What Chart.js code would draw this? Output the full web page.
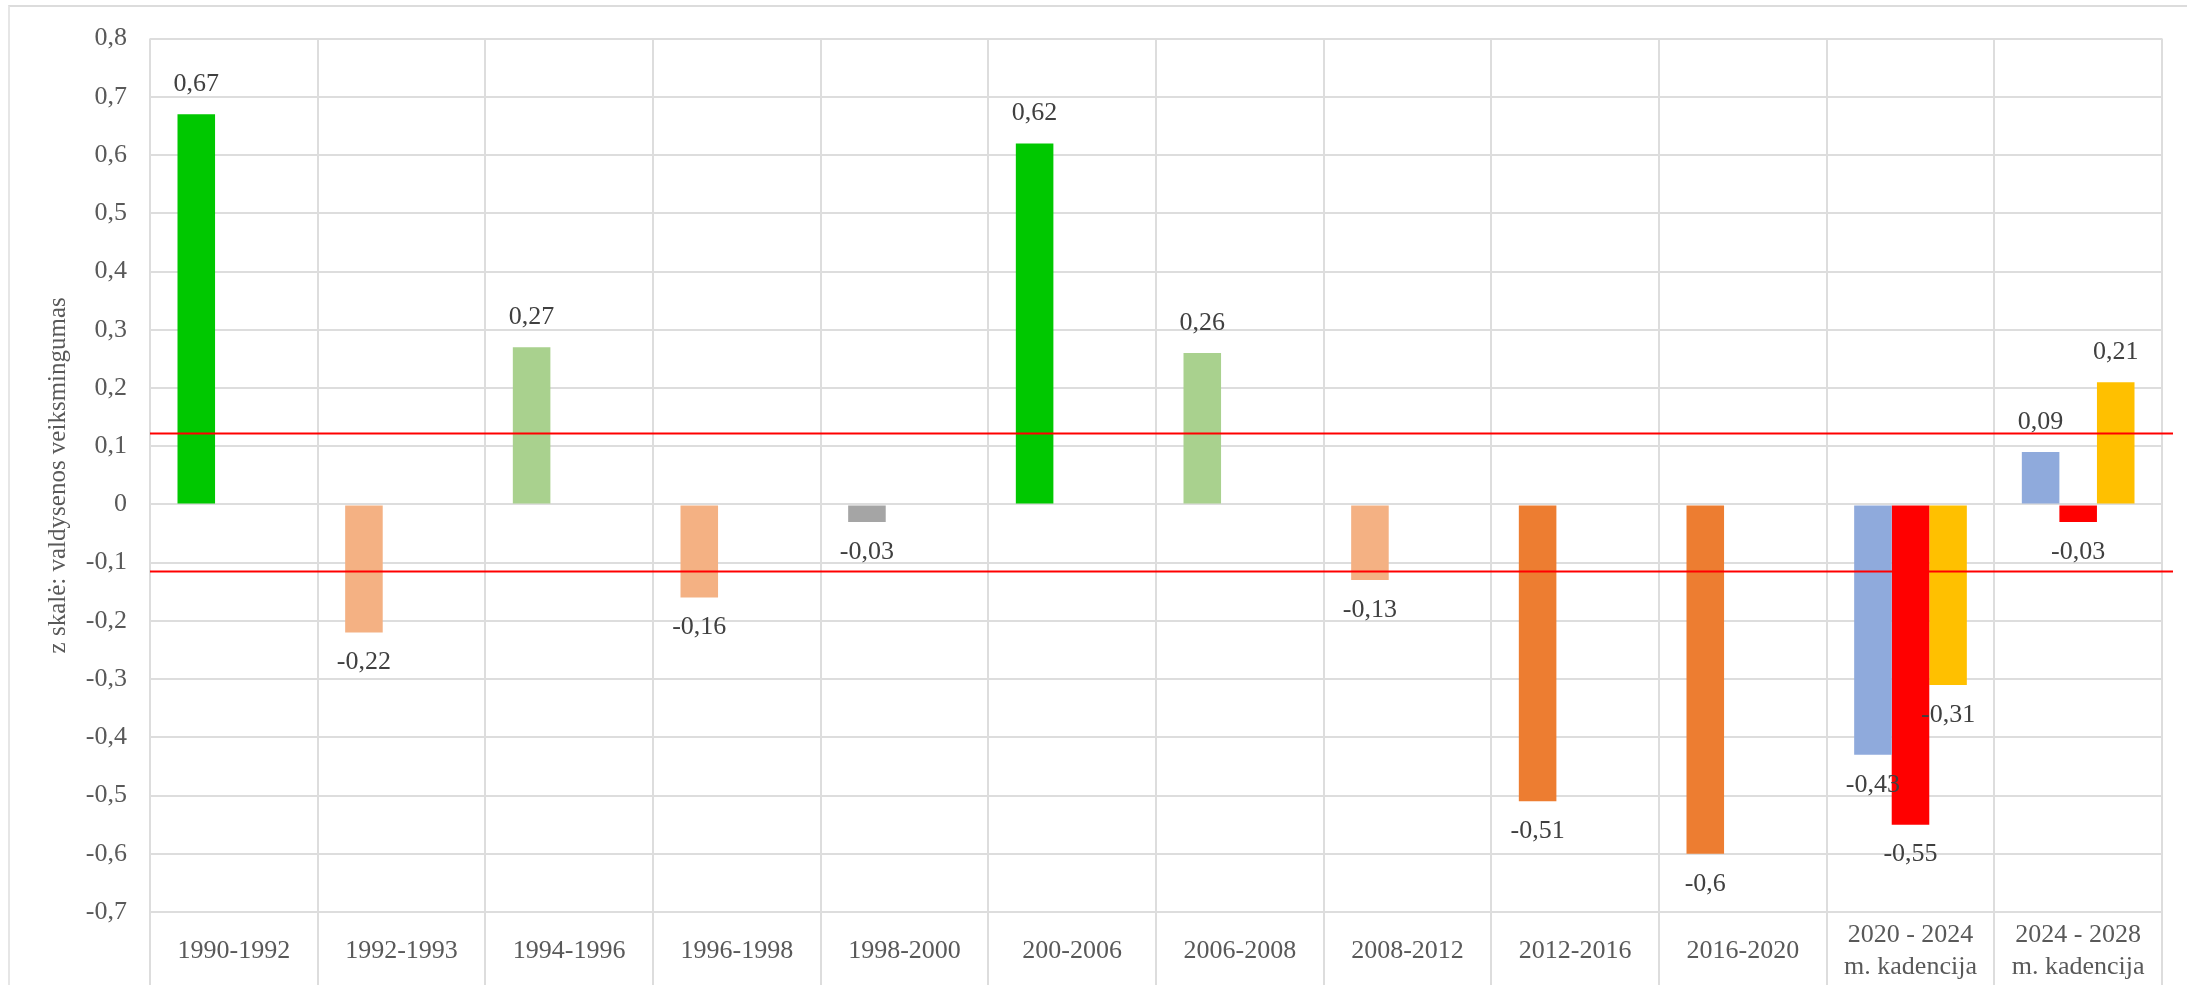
<!DOCTYPE html>
<html>
<head>
<meta charset="utf-8">
<script src="https://cdn.jsdelivr.net/npm/chart.js@4.4.1/dist/chart.umd.min.js"></script>
<style>
  html, body { margin: 0; padding: 0; background: #ffffff; }
  #wrap { position: relative; width: 2187px; height: 985px; }
  #frame { position: absolute; left: 8px; top: 5px; right: 0; bottom: 0;
           border-top: 2px solid #dcdcdc; border-left: 2px solid #e6e6e6; }
  canvas { position: absolute; left: 0; top: 0; }
</style>
</head>
<body>
<div id="wrap"><div id="frame"></div><canvas id="c" width="2187" height="985"></canvas></div>
<script>
// ---- data ----
const categories = [
  '1990-1992', '1992-1993', '1994-1996', '1996-1998', '1998-2000',
  '200-2006', '2006-2008', '2008-2012', '2012-2016', '2016-2020',
  ['2020 - 2024', 'm. kadencija'], ['2024 - 2028', 'm. kadencija']
];
const seriesA = [0.67, -0.22, 0.27, -0.16, -0.03, 0.62, 0.26, -0.13, -0.51, -0.6, -0.43, 0.09];
const seriesB = [null, null, null, null, null, null, null, null, null, null, -0.55, -0.03];
const seriesC = [null, null, null, null, null, null, null, null, null, null, -0.31, 0.21];
const colorsA = ['#00C800', '#F4B183', '#A9D18E', '#F4B183', '#A5A5A5', '#00C800',
                 '#A9D18E', '#F4B183', '#ED7D31', '#ED7D31', '#8FAADC', '#8FAADC'];
const colorB = '#FF0000';
const colorC = '#FFC000';
const thresholds = [0.123, -0.115];
const yMin = -0.7, yMax = 0.8, yStep = 0.1;
const yTitle = 'z skalė: valdysenos veiksmingumas';

const fmt = v => String(Math.round(v * 100) / 100).replace('.', ',');

Chart.defaults.font.family = '"Liberation Serif", "Times New Roman", serif';

const labelPlugin = {
  id: 'valueLabels',
  afterDatasetsDraw(chart) {
    const ctx = chart.ctx;
    ctx.save();
    ctx.font = '26px "Liberation Serif", serif';
    ctx.fillStyle = '#404040';
    ctx.textAlign = 'center';
    ctx.textBaseline = 'middle';
    chart.data.datasets.forEach((ds, di) => {
      const meta = chart.getDatasetMeta(di);
      meta.data.forEach((el, i) => {
        const v = ds.data[i];
        if (v === null || v === undefined) return;
        const y = v >= 0 ? el.y - 30 : el.y + 30;
        ctx.fillText(fmt(v), el.x, y);
      });
    });
    ctx.restore();
  }
};

const linePlugin = {
  id: 'thresholdLines',
  afterDraw(chart) {
    const ctx = chart.ctx;
    const ys = chart.scales.y;
    const area = chart.chartArea;
    ctx.save();
    ctx.strokeStyle = '#FF0000';
    ctx.lineWidth = 2;
    thresholds.forEach(t => {
      const py = Math.round(ys.getPixelForValue(t)) + 0.5;
      ctx.beginPath();
      ctx.moveTo(area.left, py);
      ctx.lineTo(area.right + 11, py);
      ctx.stroke();
    });
    ctx.restore();
  }
};

new Chart(document.getElementById('c'), {
  type: 'bar',
  data: {
    labels: categories,
    datasets: [
      { data: seriesA, backgroundColor: colorsA },
      { data: seriesB, backgroundColor: colorB },
      { data: seriesC, backgroundColor: colorC }
    ]
  },
  options: {
    responsive: false,
    animation: false,
    events: [],
    layout: { padding: { top: 36, right: 25, bottom: 0, left: 0 } },
    datasets: { bar: { categoryPercentage: 0.672, barPercentage: 1.0 } },
    plugins: { legend: { display: false }, tooltip: { enabled: false } },
    scales: {
      x: {
        grid: { color: '#dddddd', lineWidth: 2, offset: true, drawTicks: true, tickLength: 73 },
        border: { display: false },
        ticks: {
          color: '#595959', font: { size: 26, lineHeight: 1.25 },
          padding: -50, maxRotation: 0, autoSkip: false, crossAlign: 'center'
        },
        afterFit(scale) { scale.height = 73; }
      },
      y: {
        min: yMin, max: yMax,
        grid: { color: '#dddddd', lineWidth: 2, drawTicks: false },
        border: { display: false },
        ticks: {
          stepSize: yStep, color: '#595959', font: { size: 26 }, padding: 23,
          callback: v => fmt(v)
        },
        title: {
          display: true, text: yTitle, color: '#595959',
          font: { size: 25 }, padding: { top: 43, bottom: 0 }
        },
        afterFit(scale) { scale.width = 150; }
      }
    }
  },
  plugins: [labelPlugin, linePlugin]
});
</script>
</body>
</html>
